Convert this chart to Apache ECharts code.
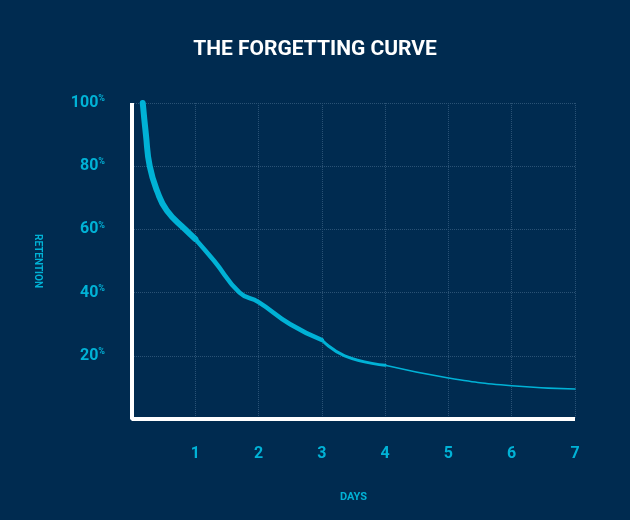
<!DOCTYPE html>
<html><head><meta charset="utf-8">
<script src="https://cdn.jsdelivr.net/npm/echarts@6/dist/echarts.min.js"></script>
<style>html,body{margin:0;background:#002b50}#c{width:630px;height:520px}</style>
</head><body><div id="c"></div>
<script>
const title = "THE FORGETTING CURVE";
const xTicks = [0,1,2,3,4,5,6,7];
const yTicks = [0,20,40,60,80,100];
const days = [0.17,0.22,0.28,0.4,0.55,0.84,1,1.3,1.7,2,2.5,3,3.36,4,5,6,7];
const retention = [100,90,80,72,66,60,57,50,40,37,30,25,20,17,13,10.5,9.5];
const cyan = '#00b2d6';
const pts = days.map((d,i)=>[d,retention[i]]);
const segs = [[0,7,6],[6,12,4.5],[11,14,3],[13,17,1.6]];
const chart = echarts.init(document.getElementById('c'));
chart.setOption({
  backgroundColor:'#002b50',
  title:{text:title,left:'center',top:34,textStyle:{color:'#fff',fontFamily:'Roboto',fontWeight:'bold',fontSize:21}},
  grid:{left:132,right:55,top:103,bottom:101},
  xAxis:{type:'value',min:0,max:7,interval:1,name:'DAYS',nameLocation:'middle',nameGap:73,
    nameTextStyle:{color:cyan,fontFamily:'Roboto',fontWeight:'bold',fontSize:11},
    axisLine:{show:false},axisTick:{show:false},
    axisLabel:{color:cyan,fontFamily:'Roboto',fontWeight:'bold',fontSize:16,margin:27,formatter:v=>v===0?'':v},
    splitLine:{show:true,lineStyle:{color:'#2a5275',type:'dotted'}}},
  yAxis:{type:'value',min:0,max:100,interval:20,name:'RETENTION',nameLocation:'middle',nameGap:90,nameRotate:-90,
    nameTextStyle:{color:cyan,fontFamily:'Roboto',fontWeight:'bold',fontSize:10},
    axisLine:{show:false},axisTick:{show:false},
    axisLabel:{color:cyan,margin:27,formatter:v=>v===0?'':'{n|'+v+'}{p|%}',
      rich:{n:{color:cyan,fontFamily:'Roboto',fontWeight:'bold',fontSize:16},p:{color:cyan,fontFamily:'Roboto',fontWeight:'bold',fontSize:9,verticalAlign:'top',padding:[0,0,8,0]}}},
    splitLine:{show:true,lineStyle:{color:'#2a5275',type:'dotted'}}},
  series:[
    ...segs.map(s=>({type:'line',data:pts.slice(s[0],s[1]),smooth:0.5,showSymbol:false,silent:true,
      lineStyle:{color:cyan,width:s[2],cap:'round'}})),
    {type:'line',data:[[0,100],[0,0],[7,0]],showSymbol:false,silent:true,lineStyle:{color:'#fff',width:4}}
  ]
});
</script></body></html>
